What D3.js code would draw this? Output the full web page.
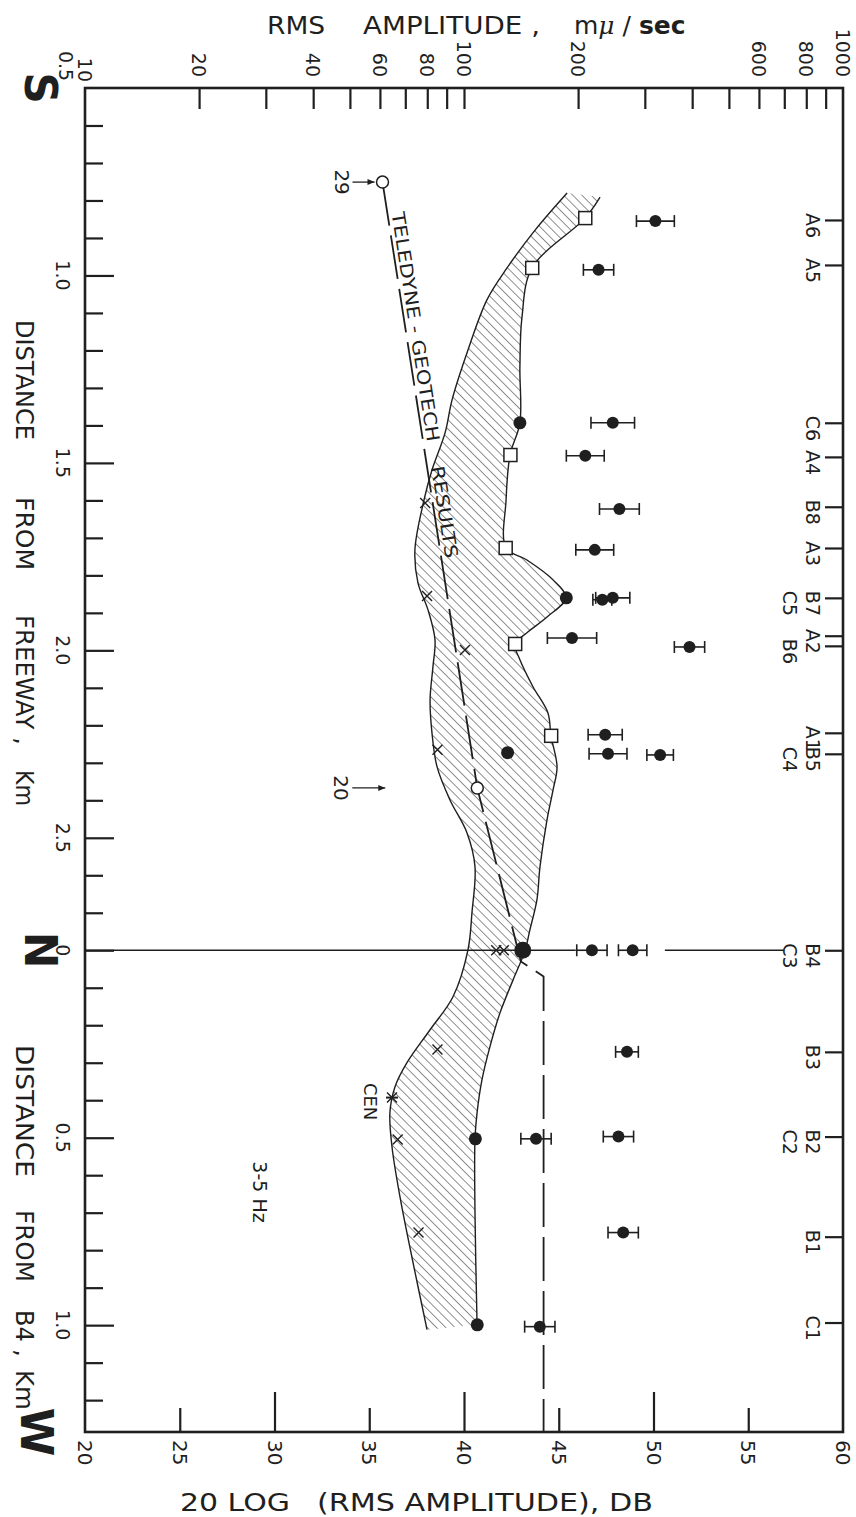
<!DOCTYPE html>
<html>
<head>
<meta charset="utf-8">
<script src="https://cdn.jsdelivr.net/npm/d3@7"></script>
<style>
  body { margin: 0; background: #fff; }
  text { font-family: "DejaVu Sans", "Liberation Sans", sans-serif; fill: #1f1f1f; }
</style>
</head>
<body>
<svg id="chart" width="856" height="1517"></svg>
<script>
// one km axis runs down the page: freeway km up to N, then N + km from B4
const N_KM = 2.8;

// stations on the right edge
const stationNames = ["A6","A5","C6","A4","B8","A3","B7","C5","A2","B6","A1","B5","C4","B4","C3","B3","B2","C2","B1","C1"];
const stationKm    = [0.852,0.972,1.393,1.484,1.617,1.727,1.86,1.86,1.961,1.988,2.22,2.276,2.276,2.8,2.8,3.071,3.297,3.297,3.564,3.793];
const stationRow   = [0,0,0,0,0,0,0,1,0,1,0,0,1,0,1,0,0,1,0,0];

// filled circles with error bars: [km, dB, half width]
const barPts = [
  [0.855,50.1,1.0],[0.985,47.1,0.8],[1.393,47.85,1.15],[1.481,46.4,1.0],
  [1.623,48.2,1.05],[1.732,46.9,1.0],[1.865,47.3,0.5],[1.86,47.85,0.9],
  [1.967,45.7,1.3],[1.991,51.9,0.8],[2.225,47.45,0.9],[2.276,47.6,1.0],
  [2.279,50.35,0.7],[2.8,46.75,0.8],[2.8,48.9,0.75],[3.071,48.6,0.6],
  [3.303,43.8,0.8],[3.297,48.15,0.8],[3.553,48.4,0.8],[3.804,44.0,0.8]
];
// filled circles on the band edge
const dotPts = [[1.393,42.95],[1.86,45.4],[2.273,42.3],[3.303,40.6],[3.799,40.7]];
const bigDot = [[2.8,43.1]];
// open squares
const squarePts = [[0.847,46.4],[0.98,43.6],[1.479,42.45],[1.727,42.2],[1.983,42.7],[2.228,44.6]];
// crosses
const crossPts = [[1.607,37.95],[1.855,38.05],[1.999,40.05],[2.265,38.6],[2.8,41.7],[2.8,42.1],[3.065,38.6],[3.305,36.5],[3.553,37.6]];
const cenPt = [[3.193,36.2]];
// Teledyne-Geotech open circles and dashed line
const tgCircles = [[0.751,35.7],[2.367,40.7]];
const tgCircleText = ["29","20"];
const tgLine = [[0.751,35.7],[2.367,40.7],[2.83,43.0],[2.87,44.2],[4.085,44.2]];
// hatched band edges [km, dB]
const bandRight = [
  [0.791,47.18],[0.847,46.39],[0.98,43.59],[1.111,43.06],[1.244,42.95],[1.393,42.95],
  [1.479,42.43],[1.599,42.22],[1.727,42.22],[1.759,43.32],[1.812,44.7],[1.86,45.38],
  [1.911,44.38],[1.953,43.32],[1.983,42.69],[2.025,42.95],[2.097,43.64],[2.167,44.43],
  [2.228,44.59],[2.311,44.91],[2.372,44.7],[2.452,44.38],[2.577,44.01],[2.665,43.85],
  [2.745,43.48],[2.801,43.22],[2.879,42.59],[2.967,41.9],[3.057,41.37],[3.145,40.95],
  [3.233,40.69],[3.303,40.58],[3.5,40.58],[3.799,40.69]
];
const bandLeft = [
  [0.78,45.44],[0.879,43.75],[0.98,42.27],[1.065,41.21],[1.199,40.21],[1.332,39.37],
  [1.42,39.0],[1.519,38.31],[1.599,37.89],[1.732,37.41],[1.82,37.57],[1.892,38.1],
  [1.972,38.47],[2.044,38.36],[2.132,38.21],[2.22,38.31],[2.311,38.58],[2.399,39.26],
  [2.487,40.16],[2.577,40.58],[2.7,40.42],[2.799,40.21],[2.924,39.42],[3.012,38.21],
  [3.1,36.99],[3.164,36.36],[3.233,36.09],[3.324,36.2],[3.457,36.62],[3.633,37.31],[3.812,38.05]
];
// N reference line, dB extents of its pieces
const nLineSegs = [[20,45.9],[50.6,56.9]];

// axes
const ampTicks  = [20,30,40,50,60,70,80,90,100,200,300,400,500,600,700,800,900];
const ampLabels = [10,20,40,60,80,100,200,600,800,1000];
const dbMinor   = [25,35,45,55];
const dbMajor   = [30,40,50];
const dbLabels  = [20,25,30,35,40,45,50,55,60];
const distMajorKm = [1.0,1.5,2.0,2.5,2.8,3.3,3.8];
const distLabelKm = [0.5,1.0,1.5,2.0,2.5,2.8,3.3,3.8];
const distLabelText = ["0.5","1.0","1.5","2.0","2.5","0","0.5","1.0"];

const ink = "#1f1f1f";
const svg = d3.select("#chart");
svg.append("rect").attr("width", 856).attr("height", 1517).attr("fill", "#fff");

const x   = d3.scaleLinear([20, 60], [85, 843]);
const amp = d3.scaleLog([10, 1000], [85, 843]);
const y   = d3.scaleLinear([0.5, 4.085], [88, 1432]);

const rot = (px, py) => `translate(${px},${py}) rotate(90)`;

// hatch pattern
const defs = svg.append("defs");
defs.append("pattern")
  .attr("id", "hatch").attr("patternUnits", "userSpaceOnUse")
  .attr("width", 6.5).attr("height", 6.5)
  .attr("patternTransform", "rotate(-45)")
  .append("line").attr("x1", 0).attr("y1", 0).attr("x2", 0).attr("y2", 6.5)
  .attr("stroke", ink).attr("stroke-width", 1);

// ---- band
const edge = d3.line().x(d => x(d[1])).y(d => y(d[0])).curve(d3.curveCatmullRom.alpha(0.5));
const rightD = edge(bandRight);
const leftRevD = edge(bandLeft.slice().reverse());
svg.append("path").attr("d", rightD + "L" + leftRevD.slice(1) + "Z").attr("fill", "url(#hatch)");
[rightD, edge(bandLeft)].forEach(d =>
  svg.append("path").attr("d", d).attr("fill", "none").attr("stroke", ink).attr("stroke-width", 1.4));

// ---- N line
nLineSegs.forEach(s =>
  svg.append("line").attr("x1", x(s[0])).attr("x2", x(s[1]))
    .attr("y1", y(N_KM)).attr("y2", y(N_KM)).attr("stroke", ink).attr("stroke-width", 1.6));

// ---- Teledyne-Geotech dashed line
const straight = d3.line().x(d => x(d[1])).y(d => y(d[0]));
svg.append("path").attr("d", straight(tgLine)).attr("fill", "none")
  .attr("stroke", ink).attr("stroke-width", 1.8).attr("stroke-dasharray", "44,10");

const p0 = [x(tgCircles[0][1]), y(tgCircles[0][0])];
const p1 = [x(tgCircles[1][1]), y(tgCircles[1][0])];
const ang = Math.atan2(p1[1] - p0[1], p1[0] - p0[0]) * 180 / Math.PI;
const tg = svg.append("g").attr("transform", `translate(${p0[0]},${p0[1]}) rotate(${ang})`);
tg.append("text").attr("x", 32).attr("y", -4).attr("font-size", 18)
  .attr("textLength", 232).attr("lengthAdjust", "spacingAndGlyphs").text("TELEDYNE - GEOTECH");
tg.append("text").attr("x", 289).attr("y", -4).attr("font-size", 18)
  .attr("textLength", 93).attr("lengthAdjust", "spacingAndGlyphs").text("RESULTS");

// ---- error bars
const bars = svg.append("g").attr("stroke", ink).attr("stroke-width", 1.6);
barPts.forEach(d => {
  const cy = y(d[0]), lo = x(d[1] - d[2]), hi = x(d[1] + d[2]);
  bars.append("line").attr("x1", lo).attr("x2", hi).attr("y1", cy).attr("y2", cy);
  [lo, hi].forEach(cx => bars.append("line").attr("x1", cx).attr("x2", cx).attr("y1", cy - 6).attr("y2", cy + 6));
});
svg.append("g").selectAll("circle").data(barPts).join("circle")
  .attr("cx", d => x(d[1])).attr("cy", d => y(d[0])).attr("r", 6).attr("fill", ink);

svg.append("g").selectAll("circle").data(dotPts).join("circle")
  .attr("cx", d => x(d[1])).attr("cy", d => y(d[0])).attr("r", 6.5).attr("fill", ink);
svg.append("g").selectAll("circle").data(bigDot).join("circle")
  .attr("cx", d => x(d[1])).attr("cy", d => y(d[0])).attr("r", 8.5).attr("fill", ink);

svg.append("g").selectAll("rect").data(squarePts).join("rect")
  .attr("x", d => x(d[1]) - 6.5).attr("y", d => y(d[0]) - 6.5).attr("width", 13).attr("height", 13)
  .attr("fill", "#fff").attr("stroke", ink).attr("stroke-width", 1.5);

const crosses = svg.append("g").attr("stroke", ink).attr("stroke-width", 1.4);
crossPts.concat(cenPt).forEach(d => {
  const cx = x(d[1]), cy = y(d[0]);
  crosses.append("path").attr("d", `M${cx - 5},${cy - 5}L${cx + 5},${cy + 5}M${cx - 5},${cy + 5}L${cx + 5},${cy - 5}`);
});
cenPt.forEach(d => {
  const cx = x(d[1]), cy = y(d[0]);
  crosses.append("path").attr("d", `M${cx - 6},${cy}L${cx + 6},${cy}`).attr("stroke-width", 2);
});

// open circles with labels and arrows
svg.append("g").selectAll("circle").data(tgCircles).join("circle")
  .attr("cx", d => x(d[1])).attr("cy", d => y(d[0])).attr("r", 6)
  .attr("fill", "#fff").attr("stroke", ink).attr("stroke-width", 1.5);
const arrowLen = [[-30, -8], [-125, -92]];
tgCircles.forEach((d, i) => {
  const cx = x(d[1]), cy = y(d[0]);
  const a0 = cx + arrowLen[i][0], a1 = cx + arrowLen[i][1];
  svg.append("line").attr("x1", a0).attr("x2", a1).attr("y1", cy).attr("y2", cy)
    .attr("stroke", ink).attr("stroke-width", 1.3);
  svg.append("path").attr("d", `M${a1},${cy}l-7,-3l0,6z`).attr("fill", ink);
  svg.append("text").attr("transform", rot(a0 - 11, cy)).attr("text-anchor", "middle")
    .attr("dominant-baseline", "central").attr("font-size", 20).text(tgCircleText[i]);
});

// annotations
svg.append("text").attr("transform", rot(370, y(cenPt[0][0]) + 4)).attr("text-anchor", "middle")
  .attr("dominant-baseline", "central").attr("font-size", 18).text("CEN");
svg.append("text").attr("transform", rot(260, 1192)).attr("text-anchor", "middle")
  .attr("dominant-baseline", "central").attr("font-size", 19).text("3-5 Hz");

// ---- frame and axes
svg.append("rect").attr("x", 85).attr("y", 88).attr("width", 758).attr("height", 1344)
  .attr("fill", "none").attr("stroke", ink).attr("stroke-width", 2.6);

const tickStyle = g => {
  g.select(".domain").remove();
  g.selectAll("line").attr("stroke", ink).attr("stroke-width", 2.2);
  g.selectAll("text").remove();
};
svg.append("g").attr("transform", "translate(0,88)")
  .call(d3.axisTop(amp).tickValues(ampTicks).tickSize(-21)).call(tickStyle);
svg.append("g").attr("transform", "translate(0,1432)")
  .call(d3.axisBottom(x).tickValues(dbMinor).tickSize(-24)).call(tickStyle);
svg.append("g").attr("transform", "translate(0,1432)")
  .call(d3.axisBottom(x).tickValues(dbMajor).tickSize(-40)).call(tickStyle);

const minorKm = d3.range(0.6, 4.05, 0.1).filter(k => !distMajorKm.some(m => Math.abs(m - k) < 0.01));
svg.append("g").attr("transform", "translate(85,0)")
  .call(d3.axisLeft(y).tickValues(minorKm).tickSize(-18)).call(tickStyle);
svg.append("g").attr("transform", "translate(85,0)")
  .call(d3.axisLeft(y).tickValues(distMajorKm).tickSize(-29)).call(tickStyle);

// station ticks on the right
const tickKm = stationKm.filter((k, i) => stationRow[i] === 0 || stationNames[i] === "B6");
svg.append("g").attr("transform", "translate(843,0)")
  .call(d3.axisRight(y).tickValues(tickKm).tickSize(-18)).call(tickStyle);

// tick labels
svg.append("g").selectAll("text").data(ampLabels).join("text")
  .attr("transform", v => rot(amp(v), v === 10 ? 82 : 77))
  .attr("text-anchor", "end").attr("dominant-baseline", "central").attr("font-size", 19)
  .text(v => v);
svg.append("g").selectAll("text").data(dbLabels).join("text")
  .attr("transform", v => rot(x(v), 1440))
  .attr("text-anchor", "start").attr("dominant-baseline", "central").attr("font-size", 20)
  .text(v => v);
svg.append("g").selectAll("text").data(distLabelKm).join("text")
  .attr("transform", (k, i) => i === 0 ? rot(66, 66) : rot(63, y(k)))
  .attr("text-anchor", "middle").attr("dominant-baseline", "central").attr("font-size", 19)
  .text((k, i) => distLabelText[i]);

svg.append("g").selectAll("text").data(stationNames).join("text")
  .attr("transform", (n, i) => rot(stationRow[i] ? 790 : 813, y(stationKm[i]) - 7))
  .attr("text-anchor", "start").attr("dominant-baseline", "central").attr("font-size", 19)
  .text(n => n);

// big compass letters
[["S", 0.5, 40], ["N", N_KM, 40], ["W", 4.085, 36]].forEach(d =>
  svg.append("text").attr("transform", rot(d[2], y(d[1])))
    .attr("text-anchor", "middle").attr("dominant-baseline", "central")
    .attr("font-size", 44).attr("font-weight", "bold")
    .text(d[0]));

// axis titles
const vword = (t, px, y0, y1) => svg.append("text").attr("transform", rot(px, y0))
  .attr("dominant-baseline", "central").attr("font-size", 24)
  .attr("textLength", y1 - y0).attr("lengthAdjust", "spacingAndGlyphs").text(t);
vword("DISTANCE", 24, 320, 440);
vword("FROM", 24, 497, 570);
vword("FREEWAY ,", 24, 615, 745);
vword("Km", 24, 770, 806);
vword("DISTANCE", 24, 1045, 1177);
vword("FROM", 24, 1210, 1282);
vword("B4 ,", 24, 1310, 1357);
vword("Km", 24, 1370, 1410);

const hword = (t, x0, x1, by, fs) => svg.append("text").attr("x", x0).attr("y", by)
  .attr("font-size", fs).attr("textLength", x1 - x0).attr("lengthAdjust", "spacingAndGlyphs").text(t);
hword("RMS", 267, 325, 34, 25);
hword("AMPLITUDE ,", 363, 540, 34, 25);
svg.append("text").attr("x", 574).attr("y", 34).attr("font-size", 25)
  .html('m<tspan font-style="italic" font-family="DejaVu Serif">μ</tspan> / <tspan font-weight="bold">sec</tspan>');
hword("20 LOG", 180, 290, 1511, 25);
hword("(RMS AMPLITUDE), DB", 317, 653, 1511, 25);
</script>
</body>
</html>
